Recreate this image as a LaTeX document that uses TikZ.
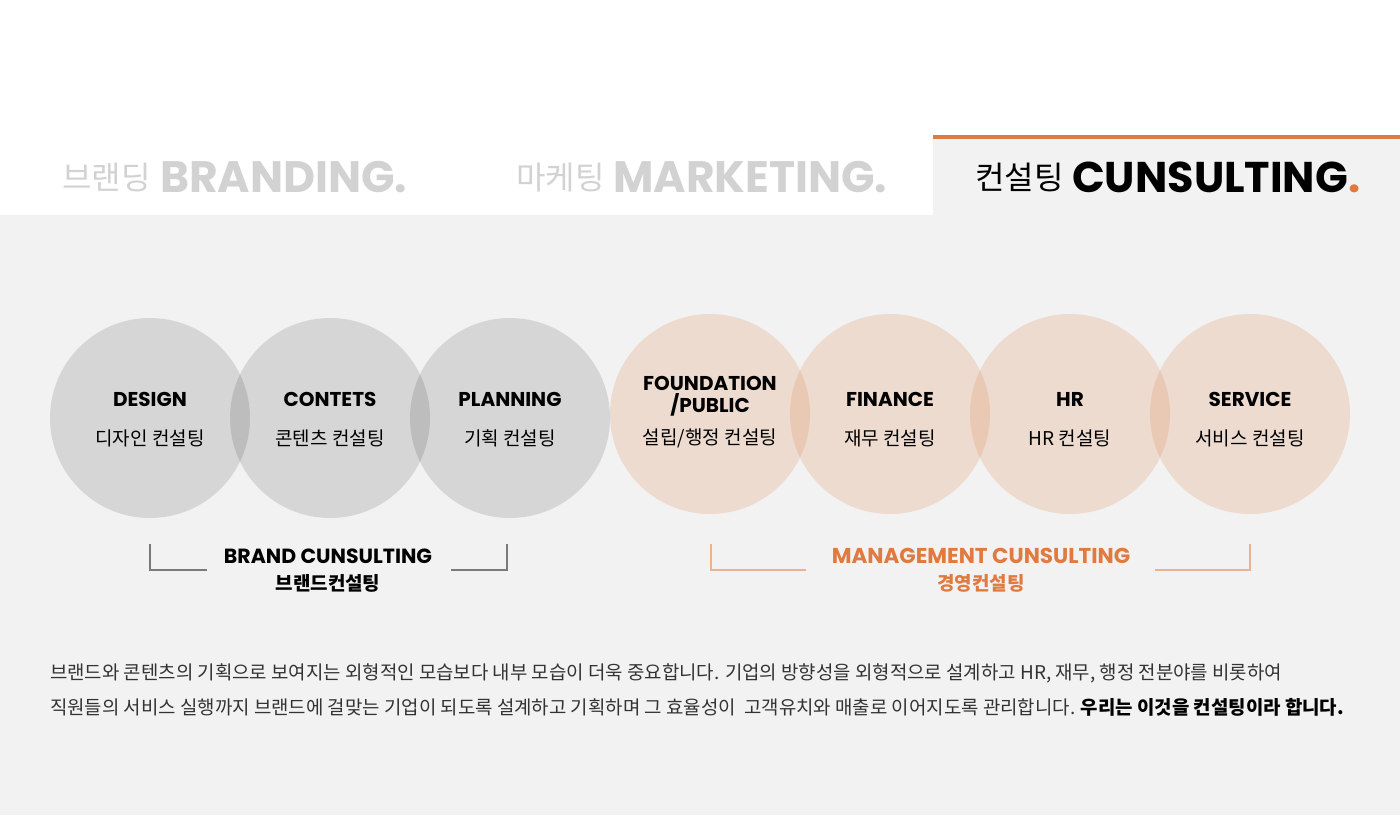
\documentclass[tikz,border=0pt]{standalone}
\usepackage{fontspec}
\setmainfont{Poppins}
\newfontfamily\kr{Noto Sans CJK KR}
\newfontfamily\en{Poppins}
\definecolor{bgc}{HTML}{F2F2F2}
\definecolor{orng}{HTML}{E07A3F}
\definecolor{tgray}{HTML}{D2D2D2}
\definecolor{circo}{HTML}{D8793F}
\definecolor{brk}{HTML}{7A7A7A}
\definecolor{brko}{HTML}{EBB390}
\definecolor{para}{HTML}{333333}
\tikzset{
  gcirc/.style={circle, minimum size=200pt, inner sep=0pt, fill=black, fill opacity=0.115, draw=none},
  ocirc/.style={circle, minimum size=200pt, inner sep=0pt, fill=circo, fill opacity=0.19, draw=none},
  ctitle/.style={font=\en\bfseries\fontsize{20}{23}\selectfont, align=center, inner sep=0pt},
  csub/.style={font=\kr\fontsize{19}{22}\selectfont, inner sep=0pt},
  tabkr/.style={anchor=base west, inner sep=0pt, font=\kr\fontsize{32}{36}\selectfont},
  taben/.style={anchor=base west, inner sep=0pt, font=\en\bfseries\fontsize{44}{46}\selectfont},
  grplbl/.style={font=\en\bfseries\fontsize{20.5}{24}\selectfont, inner sep=0pt},
  grpsub/.style={font=\kr\bfseries\fontsize{19}{22}\selectfont, inner sep=0pt},
  paratext/.style={anchor=base west, inner sep=0pt, font=\kr\fontsize{18.9}{22}\selectfont, text=para},
}
\begin{document}
\begin{tikzpicture}[x=1pt,y=-1pt]
\useasboundingbox (0,0) rectangle (1400,815);
\fill[white] (0,0) rectangle (1400,215);
\fill[bgc] (0,215) rectangle (1400,815);
\fill[bgc] (933,135) rectangle (1400,215);
\fill[orng] (933,135) rectangle (1400,139);

% tab titles
\node[tabkr, text=tgray] (tab1k) at (62,189) {브랜딩};
\node[taben, text=tgray] (tab1e) at (160,192) {BRANDING.};
\node[tabkr, text=tgray] (tab2k) at (516,189) {마케팅};
\node[taben, text=tgray] (tab2e) at (613,192) {MARKETING.};
\node[tabkr, text=black] (tab3k) at (975,189) {컨설팅};
\node[taben, text=black, font=\en\bfseries\fontsize{43}{46}\selectfont] (tab3e) at (1072,192) {CUNSULTING\textcolor{orng}{.}};

% circles
\node[gcirc] (c1) at (150,418) {};
\node[gcirc] (c2) at (330,418) {};
\node[gcirc] (c3) at (510,418) {};
\node[ocirc] (c4) at (710,414) {};
\node[ocirc] (c5) at (890,414) {};
\node[ocirc] (c6) at (1070,414) {};
\node[ocirc] (c7) at (1250,414) {};

% circle labels
\node[ctitle] (t1) at (150,399) {DESIGN};
\node[csub] (s1) at (150,438) {디자인 컨설팅};
\node[ctitle] (t2) at (330,399) {CONTETS};
\node[csub] (s2) at (330,438) {콘텐츠 컨설팅};
\node[ctitle] (t3) at (510,399) {PLANNING};
\node[csub] (s3) at (510,438) {기획 컨설팅};
\node[ctitle] (t4) at (710,396) {FOUNDATION\\[-1pt]/PUBLIC};
\node[csub] (s4) at (710,438) {설립/행정 컨설팅};
\node[ctitle] (t5) at (890,399) {FINANCE};
\node[csub] (s5) at (890,438) {재무 컨설팅};
\node[ctitle] (t6) at (1070,399) {HR};
\node[csub] (s6) at (1070,438) {HR 컨설팅};
\node[ctitle] (t7) at (1250,399) {SERVICE};
\node[csub] (s7) at (1250,438) {서비스 컨설팅};

% group brackets
\draw[brk, line width=1.3pt] (150,544) -- (150,570) -- (207,570);
\draw[brk, line width=1.3pt] (451,570) -- (507,570) -- (507,544);
\node[grplbl] (g1) at (328,556) {BRAND CUNSULTING};
\node[grpsub] (g1s) at (328,583) {브랜드컨설팅};

\draw[brko, line width=1.3pt] (711,544) -- (711,570) -- (806,570);
\draw[brko, line width=1.3pt] (1155,570) -- (1250,570) -- (1250,544);
\node[grplbl, text=orng, font=\en\bfseries\fontsize{21.5}{24}\selectfont] (g2) at (981,556) {MANAGEMENT CUNSULTING};
\node[grpsub, text=orng] (g2s) at (981,583) {경영컨설팅};

% paragraph
\node[paratext] (p1) at (50,679) {브랜드와 콘텐츠의 기획으로 보여지는 외형적인 모습보다 내부 모습이 더욱 중요합니다. 기업의 방향성을 외형적으로 설계하고 HR, 재무, 행정 전분야를 비롯하여};
\node[paratext] (p2) at (50,714) {직원들의 서비스 실행까지 브랜드에 걸맞는 기업이 되도록 설계하고 기획하며 그 효율성이 \ 고객유치와 매출로 이어지도록 관리합니다. {\bfseries\color{black}우리는 이것을 컨설팅이라 합니다.}};
\end{tikzpicture}
\end{document}
